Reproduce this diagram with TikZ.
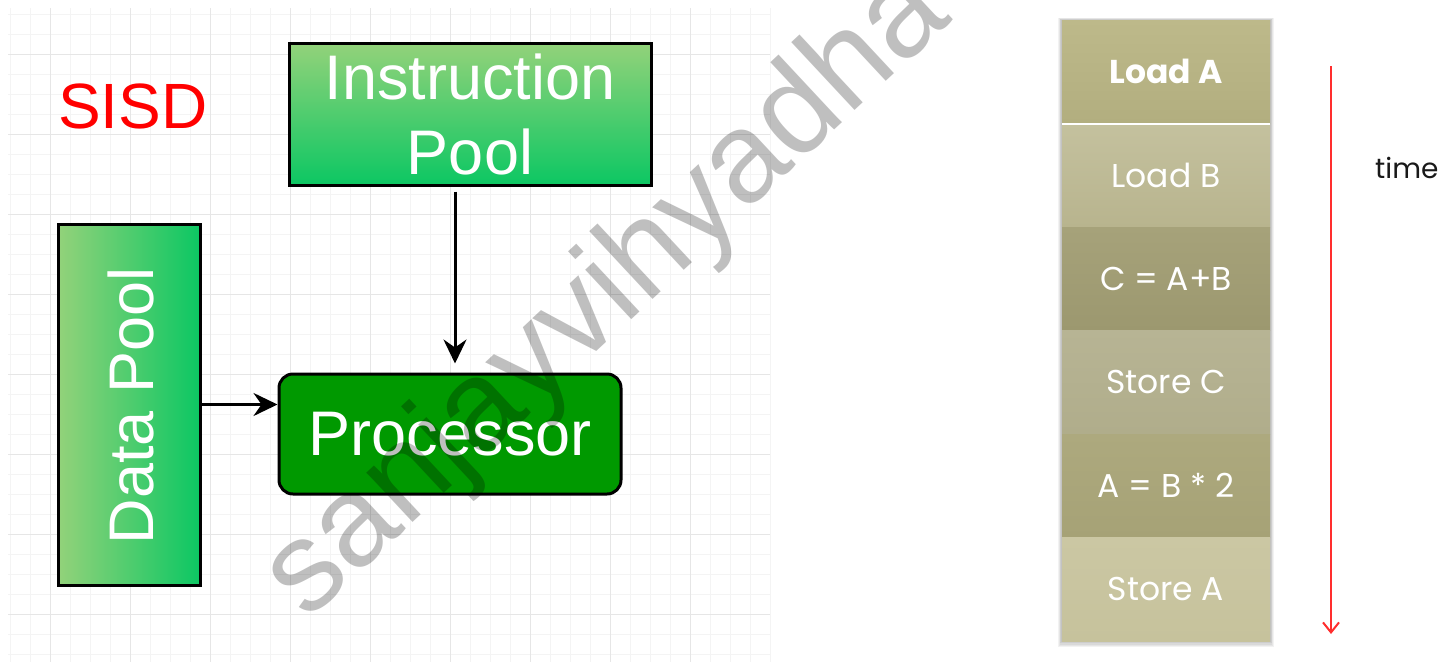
\documentclass[tikz,border=0pt]{standalone}
\usepackage{fontspec}
\setmainfont{Liberation Sans}
\newfontfamily\gothic{Poppins}
\usetikzlibrary{arrows.meta}

\definecolor{gridminor}{HTML}{F4F4F4}
\definecolor{gridmajor}{HTML}{E6E6E6}
\definecolor{poolLight}{HTML}{93D27A}
\definecolor{poolDark}{HTML}{0CC763}
\definecolor{procGreen}{HTML}{009900}
\definecolor{timeRed}{HTML}{FF2E2E}

\tikzset{
  pool/.style={draw=black, line width=3pt, inner sep=0pt, text=white,
    font=\fontsize{63}{75}\selectfont, align=center},
  procbox/.style={draw=black, line width=3pt, fill=procGreen, rounded corners=14pt,
    text=white, font=\fontsize{63}{75}\selectfont,
    minimum width=342pt, minimum height=120pt, inner sep=0pt},
  conn/.style={line width=3pt, -{Stealth[length=24pt,width=23pt,inset=8pt]}},
  slot/.style={minimum width=208pt, minimum height=103.5pt, inner sep=0pt,
    text=white, font=\gothic\fontsize{33}{40}\selectfont},
  timearrow/.style={timeRed, line width=2pt,
    -{Straight Barb[length=10pt,width=16pt,line width=2pt]}},
}

\begin{document}
\begin{tikzpicture}[x=1pt,y=-1pt]
\useasboundingbox (0,0) rectangle (1450,665);
\clip (0,0) rectangle (1450,665);
\fill[white] (0,0) rectangle (1450,665);

% background grid of the diagram canvas
\foreach \i in {10,30,...,770} \draw[gridminor, line width=1pt] (\i,8) -- (\i,662);
\foreach \j in {14,34,...,654} \draw[gridminor, line width=1pt] (8,\j) -- (770,\j);
\foreach \i in {50,130,...,690} \draw[gridmajor, line width=1pt] (\i,8) -- (\i,662);
\foreach \j in {54,134,...,614} \draw[gridmajor, line width=1pt] (8,\j) -- (770,\j);

% title
\node[anchor=base west, inner sep=0pt, text=red, font=\fontsize{64}{75}\selectfont]
  (title) at (58,128) {SISD};

% pools and processor
\node[pool, top color=poolLight, bottom color=poolDark,
  minimum width=362pt, minimum height=142pt] (ip) at (470,114) {Instruction\\Pool};
\node[pool, left color=poolLight, right color=poolDark,
  minimum width=142pt, minimum height=361pt] (data) at (129,404.5) {};
\node[inner sep=0pt, text=white, rotate=90, font=\fontsize{63}{75}\selectfont]
  (datalbl) at (131,406) {Data Pool};
\node[procbox] (proc) at (450,434) {Processor};

\draw[conn] ([xshift=-15pt,yshift=-5pt]ip.south) -- ([xshift=5pt,yshift=9pt]proc.north);
\draw[conn] (data.east) -- (proc.west |- data.east);

% instruction stream
\foreach \k in {1,...,5}
  \fill[black, opacity=0.05] (1062-0.8*\k,20-0.4*\k) rectangle (1270+0.8*\k,641+1.2*\k);
\node[slot, top color={rgb,255:red,189;green,185;blue,138}, bottom color={rgb,255:red,178;green,174;blue,127}]
  (r1) at (1166,71.75) {\bfseries Load A};
\node[slot, top color={rgb,255:red,196;green,193;blue,158}, bottom color={rgb,255:red,184;green,180;blue,142}]
  (r2) at (1166,175.25) {Load B};
\node[slot, top color={rgb,255:red,166;green,162;blue,122}, bottom color={rgb,255:red,156;green,152;blue,111}]
  (r3) at (1166,278.75) {C = A+B};
\node[slot, top color={rgb,255:red,183;green,180;blue,148}, bottom color={rgb,255:red,176;green,173;blue,139}]
  (r4) at (1166,382.25) {Store C};
\node[slot, top color={rgb,255:red,173;green,169;blue,126}, bottom color={rgb,255:red,166;green,162;blue,118}]
  (r5) at (1166,485.75) {A = B * 2};
\node[slot, top color={rgb,255:red,203;green,199;blue,163}, bottom color={rgb,255:red,198;green,194;blue,156}]
  (r6) at (1166,589.25) {Store A};
\draw[white, line width=2pt] (r1.south west) -- (r1.south east);

\coordinate (t0) at (1331,66);
\coordinate (t1) at (1331,634);
\draw[timearrow] (t0) -- (t1);
\node[anchor=base west, inner sep=0pt, text=black!90, font=\gothic\fontsize{28}{33}\selectfont]
  (timelbl) at (1375,178) {time};

% watermark
\node[inner sep=0pt, rotate=43, text=black, text opacity=0.25,
  font=\fontsize{128}{128}\selectfont] (mark) at (608,296) {sanjayvihyadha};
\end{tikzpicture}
\end{document}
